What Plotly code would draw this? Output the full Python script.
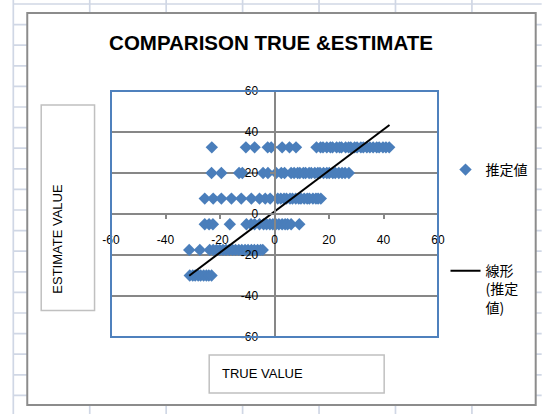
import plotly.graph_objects as go

# ---------------- data ----------------
band_y = [32.5, 20, 7.5, -5, -17.5, -30]

x_325 = [-23.0, -10.5, -7.3, -2.5, -1.2, 2.8, 5.5, 7.9,
         15.4, 16.9, 17.8, 19.2, 20.5, 21.3, 22.8, 23.9, 24.6, 26.1, 27.2, 28.0,
         29.4, 30.3, 31.7, 32.6, 33.9, 35.0, 36.2, 37.5, 38.4, 39.8, 40.9, 42.1]
x_20 = [-23.1, -19.5, -13.0, -11.8, -4.2, -2.4, 0.6, 2.5, 3.7,
        6.1, 7.2, 8.5, 9.3, 10.6, 11.4, 12.7, 13.5, 14.8, 15.9, 16.7, 18.0,
        19.2, 20.1, 21.4, 22.3, 23.6, 24.8, 25.9, 27.3]
x_75 = [-25.6, -22.5, -19.5, -15.8, -12.2, -8.5, -5.5, -3.4, -1.6,
        1.2, 2.3, 3.5, 4.4, 5.7, 6.6, 7.8, 8.9, 9.7, 10.9, 12.0, 12.8, 14.1,
        15.2, 16.0, 17.0]
x_m5 = [-25.6, -24.0, -22.6, -16.4, -10.3, -8.6, -7.3, -5.5,
        -4.0, -2.9, -1.7, -0.6, 0.5, 1.6, 2.8, 3.9, 4.8, 6.1, 9.1]
x_m175 = [-31.3, -27.4, -23.8, -22.5, -21.3, -20.1, -18.9, -17.8, -16.6,
          -15.4, -14.3, -13.1, -12.0, -10.8, -9.7, -8.5, -7.4, -6.2, -5.1, -4.3]
x_m30 = [-31.1, -30.0, -29.1, -28.0, -27.1, -26.0, -25.0, -24.1, -23.1]

band_x = [x_325, x_20, x_75, x_m5, x_m175, x_m30]

trend_x = [-31.3, 42.2]
trend_y = [-30.1, 43.4]

x_ticks = [-60, -40, -20, 0, 20, 40, 60]
y_ticks = [-60, -40, -20, 0, 20, 40, 60]

title_text = "COMPARISON TRUE &ESTIMATE"
x_title = "TRUE VALUE"
y_title = "ESTIMATE VALUE"
series_name = "推定値"
trend_name = "線形<br>(推定<br>値)"

# ---------------- geometry helpers ----------------
W, H = 543, 414
L, T, PW, PH = 111, 91, 328, 246


def px(x):
    return (x - L) / PW


def py(y):
    return 1 - (y - T) / PH


xs, ys = [], []
for yv, xv in zip(band_y, band_x):
    xs.extend(xv)
    ys.extend([yv] * len(xv))

fig = go.Figure()
fig.add_trace(go.Scatter(
    x=xs, y=ys, mode="markers", name=series_name,
    marker=dict(symbol="diamond", size=9.5, color="#4a7ebb"),
    legendgroup="a",
))
fig.add_trace(go.Scatter(
    x=trend_x, y=trend_y, mode="lines", name=trend_name,
    line=dict(color="black", width=2),
    legendgroup="b",
))

shapes = []
grid_col = "#d0d7e5"
# spreadsheet grid
for i in range(8):
    gx = 13 + i * 76.67
    shapes.append(dict(type="line", xref="paper", yref="paper",
                       x0=px(gx), x1=px(gx), y0=py(0), y1=py(H),
                       line=dict(color=grid_col, width=1.7), layer="below"))
for i in range(21):
    gy = 4 + i * 20.6
    shapes.append(dict(type="line", xref="paper", yref="paper",
                       x0=px(13), x1=px(W), y0=py(gy), y1=py(gy),
                       line=dict(color=grid_col, width=1.7), layer="below"))
# chart area
shapes.append(dict(type="rect", xref="paper", yref="paper",
                   x0=px(27), x1=px(537), y0=py(13), y1=py(405),
                   fillcolor="white", line=dict(color="#8c8c8c", width=2),
                   layer="below"))
# axis title boxes
shapes.append(dict(type="rect", xref="paper", yref="paper",
                   x0=px(41), x1=px(94.5), y0=py(105), y1=py(310.5),
                   fillcolor="white", line=dict(color="#c0c0c0", width=1.5),
                   layer="below"))
shapes.append(dict(type="rect", xref="paper", yref="paper",
                   x0=px(209.5), x1=px(385), y0=py(355), y1=py(393),
                   fillcolor="white", line=dict(color="#c0c0c0", width=1.5),
                   layer="below"))
# plot area frame
shapes.append(dict(type="rect", xref="paper", yref="paper",
                   x0=0, x1=1, y0=0, y1=1,
                   line=dict(color="#4f81bd", width=2), layer="above"))

annotations = [
    dict(text=y_title, xref="paper", yref="paper", x=px(57), y=py(238.5),
         textangle=-90, showarrow=False, xanchor="center", yanchor="middle",
         font=dict(family="Liberation Sans, Arial", size=13, color="black")),
    dict(text=x_title, xref="paper", yref="paper", x=px(220), y=py(373),
         showarrow=False, xanchor="left", yanchor="middle",
         font=dict(family="Liberation Sans, Arial", size=13, color="black")),
]

axis_gray = "#878787"
tickfont = dict(family="Liberation Sans, Arial", size=12, color="black")

fig.update_layout(
    width=W, height=H,
    margin=dict(l=L, r=W - L - PW, t=T, b=H - T - PH, pad=0),
    paper_bgcolor="white", plot_bgcolor="white",
    title=dict(text="<b>" + title_text + "</b>", xref="container", yref="container",
               x=271 / W, y=1 - 43 / H, xanchor="center", yanchor="middle",
               font=dict(family="Liberation Sans, Arial", size=20.5, color="black")),
    xaxis=dict(range=[-60, 60], tickvals=x_ticks, ticktext=[str(v) for v in x_ticks],
               anchor="free", position=0.5, showgrid=False,
               zeroline=True, zerolinecolor=axis_gray, zerolinewidth=2,
               showline=True, linecolor=axis_gray, linewidth=2,
               ticks="outside", ticklen=4, tickcolor=axis_gray, tickwidth=1.5,
               tickfont=tickfont, ticklabelstandoff=11),
    yaxis=dict(range=[-60, 60], tickvals=y_ticks, ticktext=[str(v) for v in y_ticks],
               anchor="free", position=0.5, showgrid=True,
               gridcolor=axis_gray, gridwidth=2,
               zeroline=False,
               showline=True, linecolor=axis_gray, linewidth=2,
               ticks="outside", ticklen=4, tickcolor=axis_gray, tickwidth=1.5,
               tickfont=tickfont, ticklabelstandoff=9),
    showlegend=True,
    legend=dict(x=px(445.5), y=py(154), xanchor="left", yanchor="top",
                traceorder="grouped", tracegroupgap=80, valign="top",
                bgcolor="rgba(0,0,0,0)",
                font=dict(family="Noto Sans CJK JP", size=14, color="black")),
    shapes=shapes,
    annotations=annotations,
)

fig.write_html("out.html", config={"displayModeBar": False},
               post_script="document.body.style.margin='0';")
